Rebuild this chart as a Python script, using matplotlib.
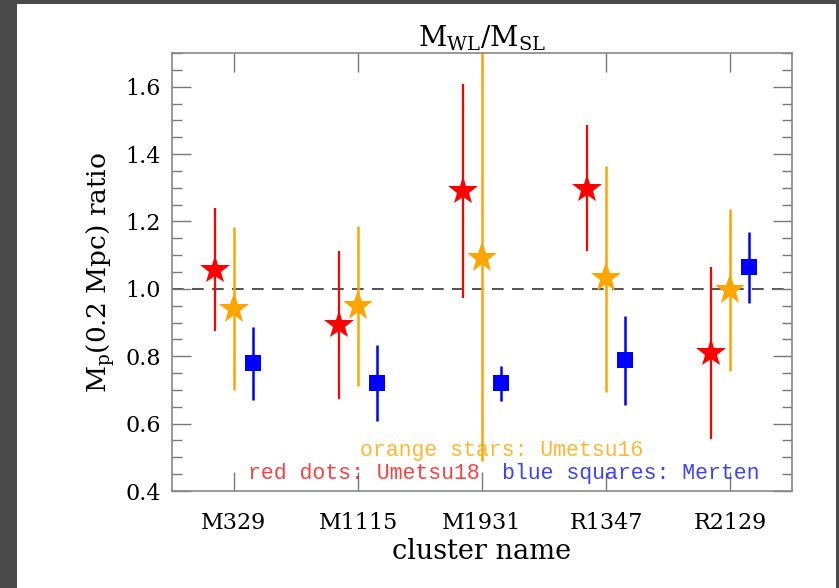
import matplotlib
matplotlib.use("Agg")
import matplotlib.pyplot as plt
from matplotlib.patches import Rectangle
from matplotlib.ticker import MultipleLocator
import numpy as np

clusters = ["M329", "M1115", "M1931", "R1347", "R2129"]

# Umetsu18 (red stars): ratio, upper end, lower end
red_val = [1.055, 0.892, 1.289, 1.296, 0.811]
red_hi = [1.240, 1.113, 1.608, 1.487, 1.066]
red_lo = [0.874, 0.672, 0.972, 1.111, 0.553]

# Umetsu16 (orange stars)
org_val = [0.941, 0.948, 1.092, 1.032, 0.997]
org_hi = [1.184, 1.188, 1.760, 1.366, 1.236]
org_lo = [0.699, 0.711, 0.488, 0.695, 0.757]

# Merten (blue squares)
blu_val = [0.779, 0.721, 0.720, 0.789, 1.064]
blu_hi = [0.886, 0.834, 0.771, 0.918, 1.168]
blu_lo = [0.671, 0.607, 0.667, 0.655, 0.957]

RED = "#ff0000"
ORANGE = "#ffa500"
BLUE = "#0000ff"
SERIF = ["DejaVu Serif"]
MONO = ["Liberation Mono", "DejaVu Sans Mono"]

fig = plt.figure(figsize=(8.39, 5.88), dpi=100, facecolor="#4a4a4a")
# white page area inside the dark frame
fig.patches.append(Rectangle((17 / 839, 0), (836 - 17) / 839, (588 - 4) / 588,
                             transform=fig.transFigure, facecolor="white",
                             edgecolor="none", zorder=-10))

ax = fig.add_axes([172 / 839, (588 - 491) / 588, (792 - 172) / 839, (491 - 53) / 588])
ax.set_facecolor("white")

x = np.arange(1, len(clusters) + 1)
off = 0.15

def draw(xpos, val, hi, lo, color, marker, ms, lw):
    val = np.asarray(val); hi = np.asarray(hi); lo = np.asarray(lo)
    ax.vlines(xpos, lo, hi, color=color, lw=lw, zorder=2)
    ax.plot(xpos, val, linestyle="none", marker=marker, color=color,
            markersize=ms, markeredgewidth=0, zorder=3)

draw(x - off, red_val, red_hi, red_lo, RED, "*", 22, 1.6)
draw(x, org_val, org_hi, org_lo, ORANGE, "*", 23, 1.8)
draw(x + off, blu_val, blu_hi, blu_lo, BLUE, "s", 11, 1.8)

ax.axhline(1.0, color="#333333", lw=1.2, dashes=(7, 5), zorder=1)

ax.set_xlim(0.5, 5.5)
ax.set_xticks(x)
ax.set_xticklabels(clusters, fontfamily=SERIF, fontsize=16)
ax.yaxis.set_minor_locator(MultipleLocator(0.05))
yt = [0.4, 0.6, 0.8, 1.0, 1.2, 1.4, 1.6]
ax.set_yticks(yt)
ax.set_yticklabels([f"{v:.1f}" for v in yt], fontfamily=SERIF, fontsize=16)
ax.set_ylim(0.4, 1.7)

ax.tick_params(axis="both", which="both", direction="in", top=True, right=True,
               color="#777777", width=1.0)
ax.tick_params(axis="y", which="major", length=14, pad=8)
ax.tick_params(axis="y", which="minor", length=7)
ax.tick_params(axis="x", which="major", length=14, pad=15)
for s in ax.spines.values():
    s.set_color("#888888")
    s.set_linewidth(1.2)

ax.set_xlabel("cluster name", fontfamily=SERIF, fontsize=19.5, labelpad=3)
ax.set_ylabel(r"M$_\mathregular{p}$(0.2 Mpc) ratio", fontfamily=SERIF, fontsize=19, labelpad=6)
ax.set_title(r"M$_\mathregular{WL}$/M$_\mathregular{SL}$", fontfamily=SERIF, fontsize=20, pad=4)

ax.text(3.157, 0.503, "orange stars: Umetsu16", color=ORANGE, alpha=0.8,
        fontfamily=MONO, fontsize=15.5, ha="center", va="baseline", zorder=4)
ax.text(2.05, 0.437, "red dots: Umetsu18", color=RED, alpha=0.75,
        fontfamily=MONO, fontsize=15.5, ha="center", va="baseline", zorder=4)
ax.text(4.2, 0.437, "blue squares: Merten", color=BLUE, alpha=0.75,
        fontfamily=MONO, fontsize=15.5, ha="center", va="baseline", zorder=4)

fig.savefig("out.png", dpi=100, facecolor=fig.get_facecolor())
